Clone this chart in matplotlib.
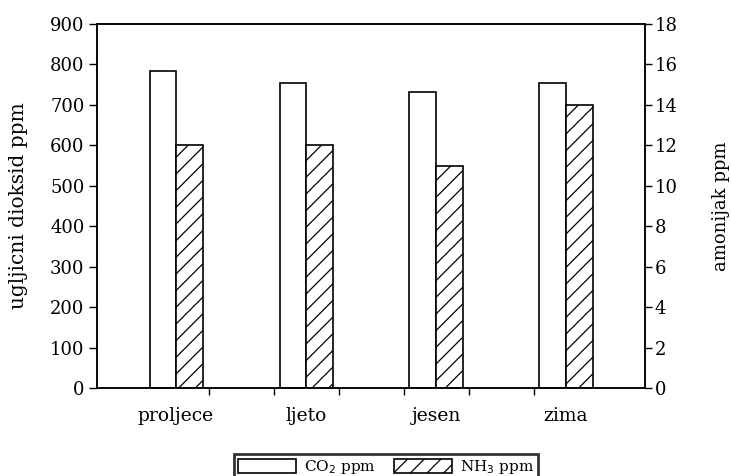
import numpy as np
import matplotlib
matplotlib.use("Agg")
import matplotlib.pyplot as plt

plt.rcParams["font.family"] = ["DejaVu Serif"]
plt.rcParams["hatch.linewidth"] = 0.9

seasons = ["proljece", "ljeto", "jesen", "zima"]
co2 = [785, 753, 733, 755]
nh3 = [12, 12, 11, 14]

x = np.arange(len(seasons))
w = 0.204

fig = plt.figure(figsize=(7.31, 4.76), dpi=100)
ax = fig.add_axes([0.1327, 0.1849, 0.7497, 0.7647])
ax2 = ax.twinx()

b1 = ax.bar(x - w / 2, co2, w, facecolor="white", edgecolor="black", linewidth=1.2, label="CO$_2$ ppm")
b2 = ax2.bar(x + w / 2, nh3, w, facecolor="white", edgecolor="black", linewidth=1.2, hatch="//", label="NH$_3$ ppm")

ax.set_xlim(-0.608, 3.608)
ax.set_ylim(0, 900)
ax2.set_ylim(0, 18)
ax.set_yticks(range(0, 901, 100))
ax2.set_yticks(range(0, 19, 2))

ax.set_xticks([0.25, 0.75, 1.25, 1.75, 2.25, 2.75])
ax.set_xticklabels([])
ax.set_xticks(x, minor=True)
ax.set_xticklabels(seasons, minor=True)
ax.tick_params(axis="x", which="major", length=5, width=1, direction="out")
ax.tick_params(axis="x", which="minor", length=0, pad=14, labelsize=13.5)
ax.tick_params(axis="y", length=6, width=1, labelsize=13, pad=3)
ax2.tick_params(axis="y", length=5, width=1, labelsize=13, pad=2)

for a in (ax, ax2):
    for s in a.spines.values():
        s.set_linewidth(1.1)

ax.set_ylabel("ugljicni dioksid ppm", fontsize=14.5)
ax.yaxis.set_label_coords(-0.125, 0.5)
ax2.set_ylabel("amonijak ppm", fontsize=13, rotation=90)
ax2.yaxis.set_label_coords(1.122, 0.5)

leg = fig.legend(handles=[b1, b2], loc="upper center", bbox_to_anchor=(0.528, 0.046),
                 ncol=2, fontsize=11, frameon=True, fancybox=False, edgecolor="black",
                 handlelength=3.8, handleheight=1.0, columnspacing=1.2, handletextpad=0.5,
                 borderpad=0.25, borderaxespad=0)
leg.get_frame().set_linewidth(2)

fig.savefig("out.png", dpi=100)
